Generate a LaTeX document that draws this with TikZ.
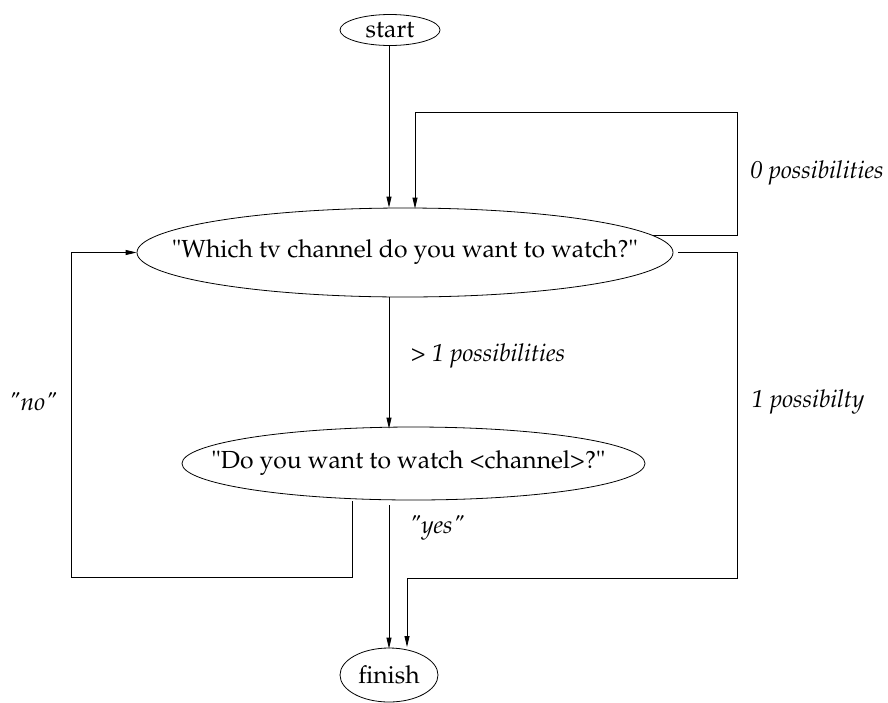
\documentclass[tikz,border=0pt]{standalone}
\usepackage[T1]{fontenc}
\usepackage{mathpazo}
\usetikzlibrary{shapes.geometric,arrows.meta}
\begin{document}
\begin{tikzpicture}[x=1pt,y=-1pt,
  stt/.style={draw, ellipse, inner sep=0pt, line width=0.8pt},
  txt/.style={font=\fontsize{24.7}{29}\selectfont, inner sep=0pt},
  lbl/.style={font=\fontsize{24.5}{29}\selectfont\itshape, inner sep=0pt},
  conn/.style={line width=0.8pt, -{Triangle[length=11pt,width=5pt]}},
  plainline/.style={line width=0.8pt}]
\useasboundingbox (0,0) rectangle (888,702);
% states
\node[stt, minimum width=100pt, minimum height=31pt,
      label={[txt,name=startT]center:start}] (start) at (390,30) {};
\node[stt, minimum width=536pt, minimum height=89pt,
      label={[txt,name=whichT]center:"Which tv channel do you want to watch?"}] (which) at (405,252.5) {};
\node[stt, minimum width=463pt, minimum height=73pt,
      label={[txt,name=doT,xshift=-5pt]center:"Do you want to watch <channel>?"}] (do) at (413.5,463.5) {};
\node[stt, minimum width=98pt, minimum height=54pt,
      label={[txt,name=finishT]center:finish}] (finish) at (389,675) {};
% helper columns / rows
\coordinate (colA) at (389,0);
\coordinate (colB) at (415,0);
\coordinate (colC) at (407,0);
\coordinate (colN) at (352,0);
\coordinate (rTop) at (737,112);
\coordinate (rBot) at (737,578);
\coordinate (lBot) at (71,577);
% connectors
\draw[conn] (start.south -| colA) -- (which.north -| colA);
\draw[conn] (which.4) -- (which.4 -| rTop) -- (rTop) -- (rTop -| colB) -- ([yshift=-1pt]which.north -| colB);
\draw[conn] ([xshift=5pt]which.east) -- (which.east -| rBot) -- (rBot) -- (rBot -| colC) -- (colC |- 0,647);
\draw[conn] (which.south -| colA) -- ([yshift=-2pt]do.north -| colA);
\draw[conn] (colN |- 0,501) -- (colN |- lBot) -- (lBot) -- (lBot |- which.west) -- (which.west);
\draw[conn] (colA |- 0,505) -- ([yshift=-1pt]finish.north);
% labels
\node[lbl] (l0) at (817,173) {0 possibilities};
\node[lbl] (l1) at (488,356) {> 1 possibilities};
\node[lbl] (lone) at (808,402) {1 possibilty};
\node[lbl] (lno) at (33,402) {"no"};
\node[lbl] (lyes) at (437,528) {"yes"};
\end{tikzpicture}
\end{document}
